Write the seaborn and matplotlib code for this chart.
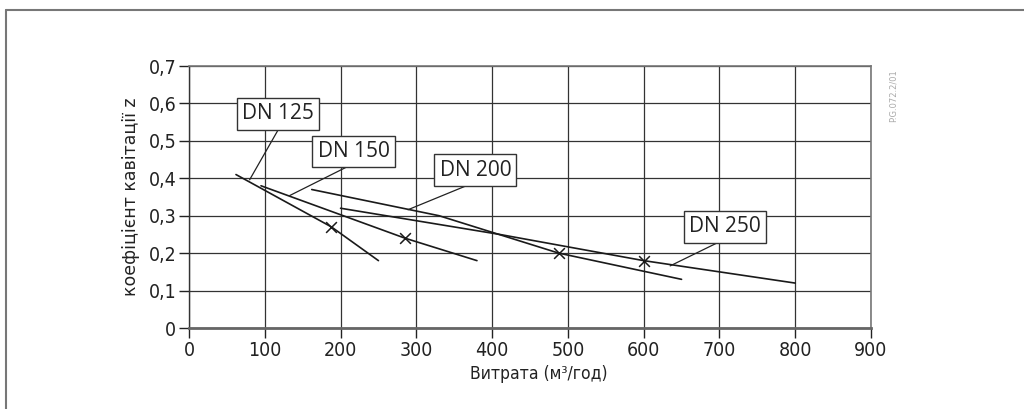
import matplotlib
matplotlib.use("Agg")
import matplotlib.pyplot as plt
from matplotlib.lines import Line2D
import seaborn as sns
import pandas as pd

# values
dn125_x = [62, 188, 250]
dn125_y = [0.41, 0.27, 0.18]
dn150_x = [95, 285, 380]
dn150_y = [0.38, 0.24, 0.18]
dn200_x = [162, 330, 488, 650]
dn200_y = [0.37, 0.30, 0.20, 0.13]
dn250_x = [200, 410, 600, 800]
dn250_y = [0.32, 0.25, 0.18, 0.12]

mark_x = [188, 285, 488, 600]
mark_y = [0.27, 0.24, 0.20, 0.18]

labels = ["DN 125", "DN 150", "DN 200", "DN 250"]
label_pos = [(117, 0.572), (217, 0.472), (378, 0.422), (707, 0.270)]
label_target = [(80, 0.396), (133, 0.354), (289, 0.316), (635, 0.166)]

x_ticks = [0, 100, 200, 300, 400, 500, 600, 700, 800, 900]
y_ticks = [0, 0.1, 0.2, 0.3, 0.4, 0.5, 0.6, 0.7]

sns.set_style("white")
plt.rcParams["font.family"] = ["DejaVu Sans"]

fig = plt.figure(figsize=(10.24, 4.09), dpi=100)
ax = fig.add_axes([189 / 1024, 1 - 328 / 409, 682 / 1024, 262 / 409])

for xs, ys in [(dn125_x, dn125_y), (dn150_x, dn150_y),
               (dn200_x, dn200_y), (dn250_x, dn250_y)]:
    df = pd.DataFrame({"x": xs, "y": ys})
    sns.lineplot(data=df, x="x", y="y", ax=ax, color="#1a1a1a",
                 linewidth=1.2, sort=False, estimator=None)

sns.scatterplot(x=mark_x, y=mark_y, ax=ax, marker="x", color="#1a1a1a",
                s=60, linewidth=1.1, zorder=5)

for lab, pos, tgt in zip(labels, label_pos, label_target):
    ax.annotate(lab, xy=tgt, xytext=pos, ha="center", va="center",
                fontsize=15, family=["Open Sans", "DejaVu Sans"], color="#222",
                bbox=dict(boxstyle="square,pad=0.25", fc="white", ec="#333", lw=1),
                arrowprops=dict(arrowstyle="-", color="#222", lw=0.9,
                                shrinkA=0, shrinkB=0, relpos=(0.55, 0.0)),
                zorder=6)

ax.set_xlim(0, 900)
ax.set_ylim(0, 0.7)
ax.set_xticks(x_ticks)
ax.set_yticks(y_ticks)
ax.set_xticklabels([str(t) for t in x_ticks])
ax.set_yticklabels(["0" if t == 0 else f"{t:.1f}".replace(".", ",") for t in y_ticks])
ax.tick_params(axis="both", labelsize=14, length=7, width=1, colors="#222",
               direction="out", pad=2, bottom=True, left=True)
for t in ax.get_xticklabels() + ax.get_yticklabels():
    t.set_fontstretch("condensed")

ax.grid(True, color="#333", linewidth=0.9)
ax.set_axisbelow(True)
for side in ["top", "right"]:
    ax.spines[side].set_color("#777")
    ax.spines[side].set_linewidth(1.2)
ax.spines["left"].set_color("#333")
ax.spines["left"].set_linewidth(1)
ax.spines["bottom"].set_color("#666")
ax.spines["bottom"].set_linewidth(2)

ax.set_xlabel("Витрата (м³/год)", fontsize=12.5, color="#222", labelpad=4,
              fontstretch="condensed")
ax.xaxis.set_label_coords(0.513, -0.14)
ax.set_ylabel("коефіцієнт кавітації z", fontsize=12.5, color="#222",
              family=["DejaVu Sans"], labelpad=6)

fig.text(893 / 1024, 1 - 96 / 409, "P.G.072.2/01", rotation=90, fontsize=6,
         color="#aaa", ha="center", va="center", family=["DejaVu Sans"])

# outer frame
fig.add_artist(Line2D([6 / 1024, 1], [1 - 10 / 409, 1 - 10 / 409],
                      color="#777", linewidth=1.5))
fig.add_artist(Line2D([6 / 1024, 6 / 1024], [0, 1 - 10 / 409],
                      color="#777", linewidth=1.5))

fig.savefig("out.png", dpi=100)
